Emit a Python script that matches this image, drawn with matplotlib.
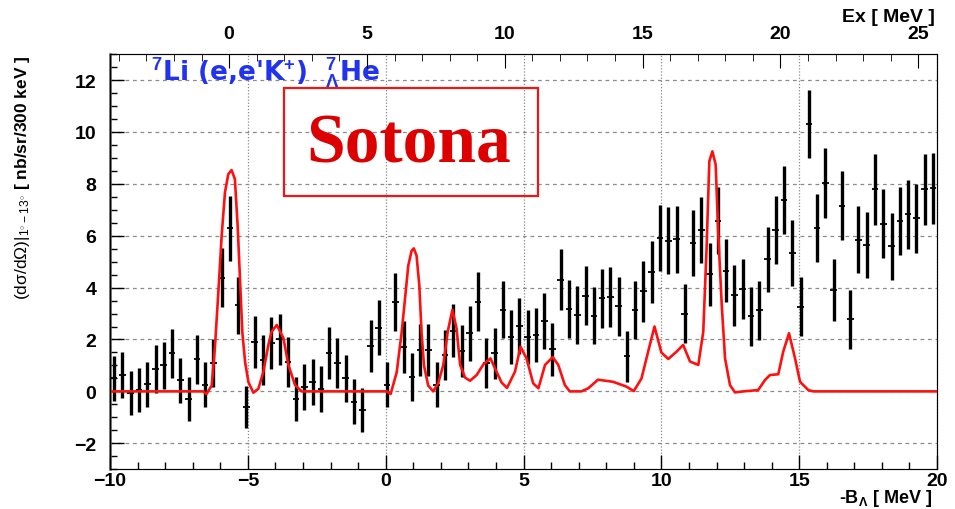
import matplotlib
matplotlib.use('Agg')
import matplotlib.pyplot as plt
import numpy as np
from matplotlib.patches import Rectangle
from matplotlib.ticker import MultipleLocator

plt.rcParams['font.family'] = ['Liberation Sans', 'DejaVu Sans']
plt.rcParams['mathtext.fontset'] = 'custom'
plt.rcParams['mathtext.rm'] = 'Liberation Sans'
plt.rcParams['mathtext.it'] = 'Liberation Sans'
plt.rcParams['mathtext.bf'] = 'Liberation Sans:bold'

# histogram: 300 keV bins starting at -10 MeV
bin_lo = -10.0
bin_w = 0.3
counts = [0.51, 0.64, -0.06, 0.06, 0.27, 0.86, 1.00, 1.46, 0.42, -0.29,
          1.23, 0.26, 1.10, 4.38, 6.29, 3.32, -0.60, 1.91, 1.21, 1.85,
          2.00, 1.13, -0.28, 0.18, 0.37, 0.09, 1.49, 1.10, 0.51, -0.40,
          -0.71, 1.76, 2.45, 0.26, 3.46, 1.71, 0.55, 1.59, 1.59, 0.26,
          1.41, 2.33, 1.56, 2.24, 3.46, 1.10, 1.46, 3.14, 2.10, 2.51,
          2.09, 2.19, 2.72, 1.62, 4.31, 3.17, 2.96, 3.69, 2.92, 3.58,
          3.63, 3.28, 1.35, 3.14, 3.85, 4.59, 5.91, 5.81, 5.86, 3.00,
          5.72, 6.23, 4.51, 6.58, 4.65, 3.71, 3.95, 2.90, 3.12, 5.09,
          6.23, 7.37, 5.32, 3.27, 10.30, 6.28, 8.03, 3.92, 7.15, 2.78,
          5.85, 5.65, 7.79, 6.47, 5.59, 6.56, 6.82, 6.67, 7.79, 7.82]
errors = [0.87, 0.88, 0.85, 0.85, 0.87, 0.91, 0.91, 0.95, 0.87, 0.84,
          0.93, 0.87, 0.92, 1.14, 1.25, 1.09, 0.80, 0.99, 0.96, 1.00,
          1.00, 0.95, 0.85, 0.88, 0.89, 0.89, 1.00, 0.96, 0.91, 0.87,
          0.85, 1.00, 1.06, 0.88, 1.12, 1.00, 0.92, 1.00, 1.00, 0.88,
          0.97, 1.02, 1.01, 1.06, 1.13, 0.96, 1.00, 1.10, 1.04, 1.07,
          1.03, 1.04, 1.09, 1.03, 1.19, 1.13, 1.12, 1.14, 1.10, 1.15,
          1.15, 1.13, 0.99, 1.13, 1.16, 1.20, 1.26, 1.28, 1.28, 1.12,
          1.27, 1.28, 1.21, 1.29, 1.21, 1.18, 1.17, 1.14, 1.13, 1.25,
          1.31, 1.32, 1.27, 1.14, 1.30, 1.31, 1.36, 1.19, 1.33, 1.13,
          1.29, 1.28, 1.36, 1.33, 1.28, 1.31, 1.32, 1.32, 1.36, 1.38]

# Sotona theory curve
curve_x = [-10.0, -6.62, -6.5, -6.31, -6.19, -6.07, -5.95, -5.83, -5.71, -5.59,
           -5.47, -5.37, -5.28, -5.2, -5.1, -4.98, -4.8, -4.62, -4.44, -4.26,
           -4.14, -3.95, -3.71, -3.53, -3.29, -3.05, 0.03, 0.18, 0.4, 0.58,
           0.7, 0.82, 0.94, 1.02, 1.12, 1.22, 1.3, 1.39, 1.54, 1.72,
           1.9, 2.09, 2.25, 2.42, 2.57, 2.7, 2.88, 3.06, 3.3, 3.55,
           3.8, 4.02, 4.2, 4.4, 4.69, 4.89, 5.11, 5.35, 5.54, 5.78,
           6.06, 6.26, 6.5, 6.68, 7.1, 7.35, 7.7, 8.25, 8.74, 9.0,
           9.28, 9.52, 9.75, 10.0, 10.25, 10.55, 10.79, 11.04, 11.34, 11.52,
           11.64, 11.74, 11.85, 11.97, 12.06, 12.19, 12.31, 12.49, 12.67, 12.97,
           13.51, 13.76, 13.94, 14.24, 14.42, 14.63, 14.85, 15.03, 15.33, 15.51,
           20.0]
curve_y = [0.0, 0.0, -0.1, 0.23, 1.77, 3.82, 6.0, 7.67, 8.37, 8.53,
           8.18, 6.38, 4.2, 2.28, 1.13, 0.36, -0.05, 0.1, 0.74, 1.77,
           2.3, 2.56, 2.05, 1.02, 0.25, 0.0, 0.0, -0.1, 0.74, 2.28,
           3.56, 4.85, 5.42, 5.51, 5.23, 4.08, 2.28, 1.0, 0.23, 0.0,
           0.3, 1.02, 2.3, 3.14, 2.43, 1.02, 0.53, 0.41, 0.63, 1.05,
           1.27, 0.76, 0.35, 0.13, 0.76, 1.72, 1.27, 0.31, 0.12, 1.02,
           1.32, 1.02, 0.24, 0.0, 0.0, 0.12, 0.45, 0.37, 0.18, 0.01,
           0.5, 1.53, 2.5, 1.5, 1.25, 1.53, 1.79, 1.15, 1.02, 2.3,
           5.52, 8.87, 9.25, 8.74, 6.17, 3.33, 1.27, 0.24, -0.04, 0.0,
           0.05, 0.44, 0.63, 0.66, 1.53, 2.24, 1.27, 0.37, 0.05, 0.0,
           0.0]

ex_offset = 5.68  # Ex = -B_Lambda + 5.68

x = bin_lo + bin_w * (np.arange(len(counts)) + 0.5)

fig = plt.figure(figsize=(9.55, 5.10), dpi=100)
ax = fig.add_axes([0.1152, 0.078, 0.866, 0.814])

ax.grid(True, axis='y', color='#8a8a8a', linestyle=(0, (3, 3)), linewidth=0.9)
ax.grid(True, axis='x', color='#8a8a8a', linestyle=(0, (1, 1.5)), linewidth=0.9)

ax.errorbar(x, counts, yerr=errors, fmt='none', ecolor='black', elinewidth=2.4, zorder=3)
ax.errorbar(x, counts, xerr=0.12, fmt='none', ecolor='black', elinewidth=1.3, zorder=3)
ax.plot(curve_x, curve_y, color='#ff1010', linewidth=1.9, zorder=4)

ax.set_xlim(-10, 20)
ax.set_ylim(-3, 13)
ax.xaxis.set_major_locator(MultipleLocator(5))
ax.xaxis.set_minor_locator(MultipleLocator(1))
ax.yaxis.set_major_locator(MultipleLocator(2))
ax.yaxis.set_minor_locator(MultipleLocator(0.5))
ax.tick_params(which='both', direction='in', labelsize=14, right=False, top=False)
ax.tick_params(which='major', length=10, width=1)
ax.tick_params(which='minor', length=5, width=1)
ax.tick_params(axis='y', pad=10)
ax.tick_params(axis='x', pad=2)
for lab in ax.get_xticklabels() + ax.get_yticklabels():
    lab.set_fontweight('bold')

ax.set_ylabel(r"$\mathrm{(d\sigma/d\Omega)|_{1^{\circ}-13^{\circ}}}$ [ nb/sr/300 keV ]",
              fontsize=12.5, fontweight='bold', loc='top', labelpad=30)

ax2 = ax.twiny()
ax2.set_xlim(-10 + ex_offset, 20 + ex_offset)
ax2.xaxis.set_major_locator(MultipleLocator(5))
ax2.xaxis.set_minor_locator(MultipleLocator(1))
ax2.tick_params(which='both', direction='in', labelsize=14, pad=9)
ax2.tick_params(which='major', length=10)
ax2.tick_params(which='minor', length=5)
for lab in ax2.get_xticklabels():
    lab.set_fontweight('bold')

fig.text(0.979, 1 - 18 / 510, "Ex [ MeV ]", fontsize=14, fontweight='bold', ha='right', va='center')
fig.text(0.976, 1 / 510, r"-B$_{\mathbf{\Lambda}}$ [ MeV ]", fontsize=13, fontweight='bold',
         ha='right', va='bottom')

for sp in ax.spines.values():
    sp.set_color('#555555')
ax.spines['left'].set_linewidth(1.8)

ax.text(0.05, 0.997, r"$^{\mathbf{7}}$Li (e,e'K$^{\mathbf{+}}$)  $^{\mathbf{7}}_{\mathbf{\Lambda}}$He",
        transform=ax.transAxes, color='#2233ee', fontsize=19, fontweight='bold',
        family=['DejaVu Sans'], va='top', ha='left')

ax.add_patch(Rectangle((0.2104, 0.658), 0.3071, 0.26, transform=ax.transAxes,
                       fill=False, edgecolor='#ee1515', linewidth=1.6, zorder=5))
ax.text(0.3615, 0.783, "Sotona", transform=ax.transAxes, color='#dd0000',
        fontsize=50, fontweight='bold', family=['Liberation Serif', 'DejaVu Serif'],
        ha='center', va='center', zorder=6)

plt.savefig('out.png', dpi=100)
